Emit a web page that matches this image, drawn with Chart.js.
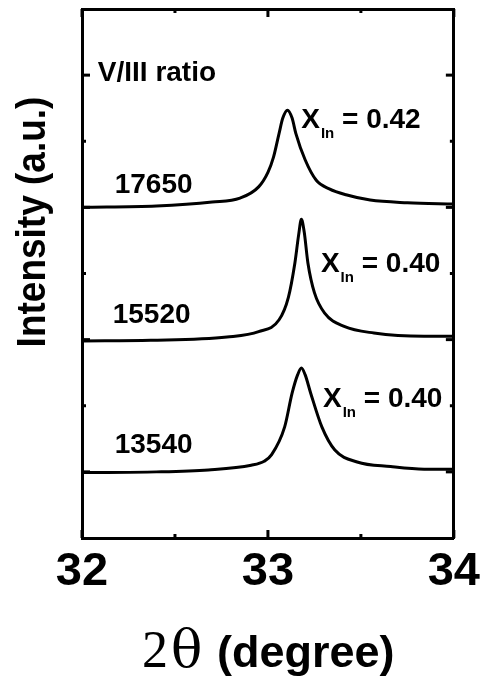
<!DOCTYPE html>
<html>
<head>
<meta charset="utf-8">
<script src="https://cdn.jsdelivr.net/npm/chart.js@4/dist/chart.umd.min.js"></script>
<style>
  html, body { margin: 0; padding: 0; background: #fff; }
  canvas { display: block; }
</style>
</head>
<body>
<canvas id="xrd-chart" width="486" height="682"></canvas>
<script>
// 2theta positions and stacked intensities (a.u.)
var theta17650 = [32.00, 32.40, 32.70, 32.85, 32.95, 33.00, 33.03, 33.06, 33.08, 33.105, 33.13, 33.15, 33.20, 33.26, 33.33, 33.42, 33.55, 33.75, 34.00];
var int17650   = [5.00, 5.02, 5.08, 5.14, 5.31, 5.53, 5.76, 6.12, 6.35, 6.47, 6.35, 6.12, 5.72, 5.41, 5.28, 5.19, 5.11, 5.07, 5.05];

var theta15520 = [32.00, 32.37, 32.78, 32.95, 33.06, 33.11, 33.145, 33.165, 33.18, 33.195, 33.215, 33.25, 33.305, 33.41, 33.57, 33.84, 34.00];
var int15520   = [2.98, 2.99, 3.04, 3.12, 3.30, 3.64, 4.16, 4.58, 4.82, 4.63, 4.16, 3.71, 3.40, 3.20, 3.10, 3.05, 3.05];

var theta13540 = [32.00, 32.40, 32.68, 32.91, 32.98, 33.02, 33.09, 33.13, 33.16, 33.18, 33.20, 33.23, 33.29, 33.36, 33.48, 33.66, 33.84, 34.00];
var int13540   = [0.99, 1.00, 1.03, 1.10, 1.16, 1.26, 1.68, 2.19, 2.47, 2.57, 2.47, 2.19, 1.68, 1.33, 1.15, 1.08, 1.04, 1.04];

// axes
var xTickLabels = [32, 33, 34];
var xMinorTicks = [32.5, 33.5];
var yMajorTicks = [1, 3, 5, 7];
var yMinorTicks = [2, 4, 6];

// annotations
var ratioHeader = 'V/III ratio';
var ratioLabels = ['17650', '15520', '13540'];
var ratioTheta = [32.176, 32.165, 32.176];
var ratioY = [5.22, 3.25, 1.29];
var inContent = ['0.42', '0.40', '0.40'];
var inTheta = [33.179, 33.285, 33.296];
var inY = [6.20, 4.02, 1.98];

var SANS = '"Liberation Sans", Arial, sans-serif';

function curve(xs, ys) {
    return {
        data: xs.map(function(v, i) { return { x: v, y: ys[i] }; }),
        borderColor: '#000',
        borderWidth: 3,
        pointRadius: 0,
        fill: false,
        cubicInterpolationMode: 'monotone'
    };
}

function line(ctx, x1, y1, x2, y2) {
    ctx.beginPath();
    ctx.moveTo(x1, y1);
    ctx.lineTo(x2, y2);
    ctx.stroke();
}

var overlay = {
    id: 'overlay',
    afterDraw: function(chart) {
        var ctx = chart.ctx, a = chart.chartArea;
        var x = chart.scales.x, y = chart.scales.y;
        ctx.save();

        // inward tick marks on all four sides
        ctx.strokeStyle = '#000';
        ctx.lineWidth = 3;
        xTickLabels.forEach(function(v) {
            var px = x.getPixelForValue(v);
            line(ctx, px, a.bottom, px, a.bottom - 8);
            line(ctx, px, a.top, px, a.top + 8);
        });
        xMinorTicks.forEach(function(v) {
            var px = x.getPixelForValue(v);
            line(ctx, px, a.bottom, px, a.bottom - 4);
            line(ctx, px, a.top, px, a.top + 4);
        });
        yMajorTicks.forEach(function(v) {
            var py = y.getPixelForValue(v);
            line(ctx, a.left, py, a.left + 8, py);
            line(ctx, a.right, py, a.right - 8, py);
        });
        yMinorTicks.forEach(function(v) {
            var py = y.getPixelForValue(v);
            line(ctx, a.left, py, a.left + 4, py);
            line(ctx, a.right, py, a.right - 4, py);
        });

        ctx.fillStyle = '#000';
        ctx.textBaseline = 'alphabetic';
        ctx.textAlign = 'left';

        // V/III ratio labels
        ctx.font = 'bold 28px ' + SANS;
        ctx.fillText(ratioHeader, x.getPixelForValue(32.085), y.getPixelForValue(6.91));
        ratioLabels.forEach(function(t, i) {
            ctx.fillText(t, x.getPixelForValue(ratioTheta[i]), y.getPixelForValue(ratioY[i]));
        });

        // X_In = ... labels
        inContent.forEach(function(t, i) {
            var px = x.getPixelForValue(inTheta[i]);
            var py = y.getPixelForValue(inY[i]);
            ctx.font = 'bold 28px ' + SANS;
            ctx.fillText('X', px, py);
            px += ctx.measureText('X').width + 1;
            ctx.font = 'bold 15px ' + SANS;
            ctx.fillText('In', px, py + 10);
            px += ctx.measureText('In').width;
            ctx.font = 'bold 28px ' + SANS;
            ctx.fillText(' = ' + t, px, py);
        });

        // y axis title (glyphs a bit thicker than they are long, as in the original)
        ctx.save();
        ctx.translate(34, 222);
        ctx.rotate(-Math.PI / 2);
        ctx.scale(1, 1.1);
        ctx.textAlign = 'center';
        ctx.textBaseline = 'middle';
        ctx.font = 'bold 37px ' + SANS;
        ctx.fillText('Intensity (a.u.)', 0, 0);
        ctx.restore();

        // x axis title: serif 2θ, bold sans (degree)
        var base = a.bottom + 129;
        var mid = (a.left + a.right) / 2;
        ctx.font = '52px "Liberation Serif", "Times New Roman", serif';
        var w2 = ctx.measureText('2').width;
        ctx.fillText('2', mid - 126, base);
        ctx.font = '52px "DejaVu Serif", serif';
        ctx.fillText('θ', mid - 126 + w2 + 3, base);
        ctx.font = 'bold 45px ' + SANS;
        ctx.fillText('(degree)', mid - 51, base);

        ctx.restore();
    }
};

new Chart(document.getElementById('xrd-chart').getContext('2d'), {
    type: 'line',
    data: {
        datasets: [
            curve(theta17650, int17650),
            curve(theta15520, int15520),
            curve(theta13540, int13540)
        ]
    },
    options: {
        responsive: false,
        animation: false,
        layout: { padding: { left: 82, right: 29, top: 9, bottom: 0 } },
        plugins: {
            legend: { display: false },
            tooltip: { enabled: false }
        },
        scales: {
            x: {
                type: 'linear',
                position: 'bottom',
                min: 32,
                max: 34,
                grid: { display: false, drawTicks: false },
                border: { display: true, color: '#000', width: 3 },
                ticks: {
                    stepSize: 1,
                    padding: 6,
                    color: '#000',
                    font: { family: SANS, size: 47, weight: 'bold' },
                    callback: function(v) { return xTickLabels.indexOf(v) >= 0 ? String(v) : ''; }
                },
                afterFit: function(s) { s.height = 144; }
            },
            x2: {
                type: 'linear',
                position: 'top',
                min: 32,
                max: 34,
                grid: { display: false, drawTicks: false },
                border: { display: true, color: '#000', width: 3 },
                ticks: { display: false },
                afterFit: function(s) { s.height = 0; }
            },
            y: {
                type: 'linear',
                position: 'left',
                min: 0,
                max: 8,
                grid: { display: false, drawTicks: false },
                border: { display: true, color: '#000', width: 3 },
                ticks: { display: false },
                afterFit: function(s) { s.width = 0; }
            },
            y2: {
                type: 'linear',
                position: 'right',
                min: 0,
                max: 8,
                grid: { display: false, drawTicks: false },
                border: { display: true, color: '#000', width: 3 },
                ticks: { display: false },
                afterFit: function(s) { s.width = 0; }
            }
        }
    },
    plugins: [overlay]
});
</script>
</body>
</html>
